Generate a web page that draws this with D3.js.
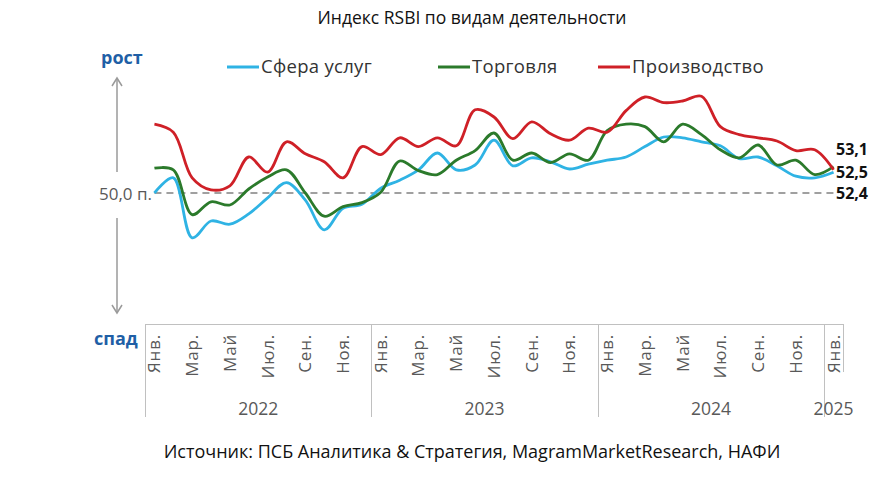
<!DOCTYPE html>
<html><head><meta charset="utf-8">
<script src="https://cdn.jsdelivr.net/npm/d3@7"></script>
<style>body{margin:0;background:#fff}svg{display:block}</style>
</head><body>
<svg id="c" width="892" height="477"></svg>
<script>
const monthNames = ["Янв.","Фев.","Мар.","Апр.","Май","Июн.","Июл.","Авг.","Сен.","Окт.","Ноя.","Дек."];
const years = ["2022","2023","2024","2025"];
const services = [50.0,51.9,44.4,46.5,46.1,47.4,49.4,51.3,49.1,45.4,48.1,48.6,
                  50.6,51.6,52.9,55.0,52.9,53.5,56.6,53.4,54.4,53.9,53.0,53.6,
                  54.1,54.5,55.8,57.0,56.9,56.4,55.9,54.3,54.5,53.4,52.1,51.9,
                  52.6];
const trade = [53.1,52.9,47.3,48.9,48.5,50.5,52.0,52.9,50.0,47.1,48.3,48.8,
               50.1,54.0,52.8,52.3,54.1,55.3,57.5,54.1,55.0,53.8,54.9,54.1,
               57.8,58.6,58.3,56.4,58.6,57.3,55.4,54.4,56.0,53.5,54.1,52.3,
               53.3];
const production = [58.6,57.6,51.9,50.4,50.9,54.5,52.6,56.4,54.9,53.9,51.9,55.8,
                    54.8,56.9,55.8,56.9,55.9,60.4,59.5,56.8,58.9,57.4,56.6,58.1,
                    57.6,60.3,62.0,61.3,61.5,62.1,58.3,57.3,56.9,56.5,55.3,55.4,
                    52.9];
const seriesNames = ["Сфера услуг","Торговля","Производство"];
const seriesColors = ["#2fb3e4","#2b7a2b","#cf2027"];
const endLabels = ["53,1","52,5","52,4"];
const baseline = 50;

const months = [];
years.forEach((y,yi)=>{ const n = yi===3?1:12; for(let m=0;m<n;m++) months.push({key:y+"-"+m, name:monthNames[m], m, year:y}); });

const svg = d3.select("#c");
const font = "'Open Sans', sans-serif";
const x = d3.scaleBand().domain(months.map(d=>d.key)).range([145,843]).padding(0);
const y = d3.scaleLinear().domain([40,62]).range([273,97]);
const cx = k => x(k)+x.bandwidth()/2;

// title
svg.append("text").attr("x",472).attr("y",24).attr("text-anchor","middle")
  .attr("font-family",font).attr("font-size",17.5).attr("fill","#111").text("Индекс RSBI по видам деятельности");

// рост / спад
svg.append("text").attr("x",101).attr("y",64).attr("font-family",font).attr("font-weight",700)
  .attr("font-size",18).attr("fill","#1f5fa6").text("рост");
svg.append("text").attr("x",94).attr("y",345).attr("font-family",font).attr("font-weight",700)
  .attr("font-size",18).attr("fill","#1f5fa6").text("спад");

// arrows
const ag = svg.append("g").attr("stroke","#9a9a9a").attr("stroke-width",1.5).attr("fill","none");
ag.append("line").attr("x1",117).attr("x2",117).attr("y1",78).attr("y2",172);
ag.append("path").attr("d","M112,86 L117,78 L122,86");
ag.append("line").attr("x1",117).attr("x2",117).attr("y1",218).attr("y2",313);
ag.append("path").attr("d","M112,305 L117,313 L122,305");

// baseline
svg.append("line").attr("x1",cx(months[0].key)).attr("x2",cx(months[months.length-1].key))
  .attr("y1",y(baseline)).attr("y2",y(baseline)).attr("stroke","#a0a0a0").attr("stroke-width",2)
  .attr("stroke-dasharray","7,5");
svg.append("text").attr("x",152).attr("y",y(baseline)+1).attr("dy","0.35em").attr("text-anchor","end")
  .attr("font-family",font).attr("font-size",17).attr("fill","#595959").text("50,0 п.");

// lines
const line = d3.line().x((d,i)=>cx(months[i].key)).y(d=>y(d)).curve(d3.curveCatmullRom.alpha(0.5));
[services,trade,production].forEach((s,i)=>{
  svg.append("path").datum(s).attr("d",line).attr("fill","none").attr("stroke",seriesColors[i])
    .attr("stroke-width",2.8).attr("stroke-linejoin","round");
});

// end labels
[149,172,193].forEach((yy,i)=>{
  svg.append("text").attr("x",836).attr("y",yy).attr("dy","0.35em").attr("font-family",font)
    .attr("font-weight",700).attr("font-size",16).attr("fill","#111").text(endLabels[i]);
});

// legend
const lx = [227,438,598];
seriesNames.forEach((n,i)=>{
  svg.append("line").attr("x1",lx[i]).attr("x2",lx[i]+32).attr("y1",67).attr("y2",67)
    .attr("stroke",seriesColors[i]).attr("stroke-width",3);
  svg.append("text").attr("x",lx[i]+34).attr("y",67).attr("dy","0.35em").attr("font-family",font)
    .attr("font-size",18.5).attr("letter-spacing",0.3).attr("fill","#333").text(n);
});

// x axis box
const axc = "#c0c0c0";
const axg = svg.append("g").attr("stroke",axc).attr("stroke-width",1);
axg.append("line").attr("x1",145).attr("x2",843).attr("y1",324.5).attr("y2",324.5);
const yearStart = years.map(yv=>x(yv+"-0"));
yearStart.forEach(xx=>axg.append("line").attr("x1",Math.round(xx)+0.5).attr("x2",Math.round(xx)+0.5).attr("y1",324).attr("y2",417));
axg.append("line").attr("x1",843.5).attr("x2",843.5).attr("y1",324).attr("y2",372);

// month labels
months.forEach((d,i)=>{
  if(d.m%2!==0) return;
  svg.append("text").attr("transform",`translate(${cx(d.key)},334) rotate(-90)`)
    .attr("text-anchor","end").attr("dy","0.35em").attr("font-family",font).attr("font-size",17)
    .attr("letter-spacing",0.8).attr("fill","#595959").text(d.name);
});
// year labels
years.forEach((yv,yi)=>{
  const ks = months.filter(d=>d.year===yv);
  const x0 = x(ks[0].key), x1 = x(ks[ks.length-1].key)+x.bandwidth();
  svg.append("text").attr("x",(x0+x1)/2).attr("y",415).attr("text-anchor","middle")
    .attr("font-family",font).attr("font-size",17.5).attr("fill","#595959").text(yv);
});

// source
svg.append("text").attr("x",472).attr("y",458).attr("text-anchor","middle")
  .attr("font-family",font).attr("font-size",18).attr("fill","#111")
  .text("Источник: ПСБ Аналитика & Стратегия, MagramMarketResearch, НАФИ");
</script>
</body></html>
